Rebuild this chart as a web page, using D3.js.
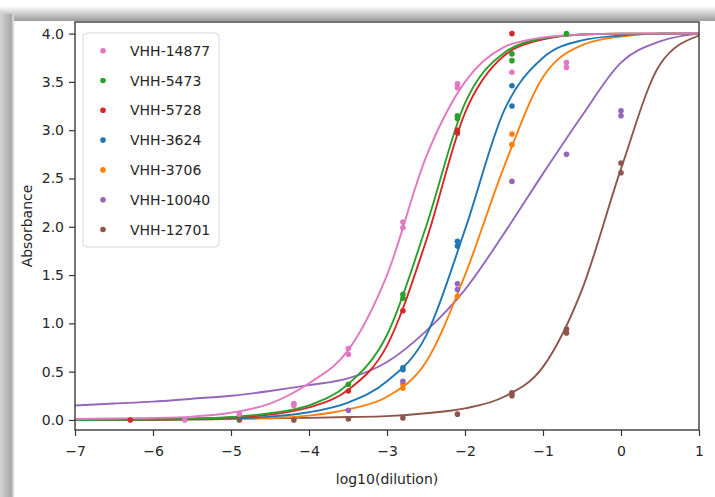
<!DOCTYPE html>
<html>
<head>
<meta charset="utf-8">
<script src="https://cdn.jsdelivr.net/npm/d3@7"></script>
<style>
  body { margin: 0; background: #fff; }
  svg { display: block; font-family: "DejaVu Sans", sans-serif; }
</style>
</head>
<body>
<svg id="chart" width="715" height="497"></svg>
<script>
// series, in legend order
const seriesNames = ["VHH-14877", "VHH-5473", "VHH-5728", "VHH-3624", "VHH-3706", "VHH-10040", "VHH-12701"];
const seriesColors = ["#e377c2", "#2ca02c", "#d62728", "#1f77b4", "#ff7f0e", "#9467bd", "#8c564b"];

// fitted curves at these x positions
const curveX = [-7, -6.5, -6, -5.5, -5, -4.5, -4, -3.5, -3, -2.5, -2, -1.5, -1, -0.5, 0, 0.5, 1];
const curve14877 = [0.01, 0.015, 0.02, 0.035, 0.075, 0.17, 0.38, 0.72, 1.5, 2.72, 3.5, 3.86, 3.96, 3.99, 4.0, 4.0, 4.0];
const curve5473 = [0.0, 0.002, 0.005, 0.012, 0.03, 0.07, 0.15, 0.37, 0.88, 2.0, 3.28, 3.8, 3.95, 3.99, 4.0, 4.0, 4.0];
const curve5728 = [0.0, 0.002, 0.004, 0.01, 0.025, 0.055, 0.13, 0.31, 0.77, 1.85, 3.18, 3.77, 3.94, 3.99, 4.0, 4.0, 4.0];
const curve3624 = [0.0, 0.001, 0.002, 0.006, 0.015, 0.035, 0.08, 0.18, 0.4, 0.87, 1.97, 3.2, 3.75, 3.93, 3.98, 4.0, 4.0];
const curve3706 = [0.0, 0.0, 0.001, 0.004, 0.01, 0.02, 0.045, 0.11, 0.24, 0.6, 1.5, 2.62, 3.55, 3.88, 3.97, 4.0, 4.0];
const curve10040 = [0.15, 0.17, 0.19, 0.22, 0.25, 0.3, 0.36, 0.43, 0.6, 0.92, 1.35, 1.93, 2.55, 3.15, 3.7, 3.92, 4.0];
const curve12701 = [0.01, 0.011, 0.012, 0.013, 0.015, 0.018, 0.022, 0.03, 0.04, 0.07, 0.12, 0.24, 0.55, 1.35, 2.6, 3.68, 3.98];

// measured replicates: [log10(dilution), absorbance]
const points14877 = [[-5.592, 0.0], [-4.893, 0.06], [-4.194, 0.17], [-4.194, 0.15], [-3.495, 0.74], [-3.495, 0.68],
  [-2.796, 2.05], [-2.796, 1.99], [-2.097, 3.48], [-2.097, 3.44], [-1.398, 3.6], [-0.699, 3.7], [-0.699, 3.65]];
const points5473 = [[-3.495, 0.37], [-2.796, 1.3], [-2.796, 1.26], [-2.097, 3.15], [-2.097, 3.12],
  [-1.398, 3.79], [-1.398, 3.72], [-0.699, 4.0]];
const points5728 = [[-6.291, 0.0], [-3.495, 0.3], [-2.796, 1.13], [-2.097, 3.0], [-2.097, 2.97], [-1.398, 4.0]];
const points3624 = [[-2.796, 0.54], [-2.796, 0.52], [-2.097, 1.85], [-2.097, 1.8], [-1.398, 3.46], [-1.398, 3.25]];
const points3706 = [[-2.796, 0.37], [-2.796, 0.33], [-2.097, 1.28], [-1.398, 2.96], [-1.398, 2.85]];
const points10040 = [[-3.495, 0.1], [-2.796, 0.4], [-2.097, 1.41], [-2.097, 1.35], [-1.398, 2.47],
  [-0.699, 2.75], [0, 3.2], [0, 3.15]];
const points12701 = [[-4.893, 0.0], [-4.194, 0.0], [-3.495, 0.01], [-2.796, 0.02], [-2.097, 0.06],
  [-1.398, 0.28], [-1.398, 0.25], [-0.699, 0.94], [-0.699, 0.9], [0, 2.66], [0, 2.56]];

const xTicks = [-7, -6, -5, -4, -3, -2, -1, 0, 1];
const yTicks = [0, 0.5, 1, 1.5, 2, 2.5, 3, 3.5, 4];

const curves = [curve14877, curve5473, curve5728, curve3624, curve3706, curve10040, curve12701];
const points = [points14877, points5473, points5728, points3624, points3706, points10040, points12701];

const svg = d3.select("#chart");
const width = 715;
const height = 497;

// screenshot shadow round the figure
const defs = svg.append("defs");
const topGrad = defs.append("linearGradient").attr("id", "topShade")
    .attr("x1", 0).attr("y1", 0).attr("x2", 0).attr("y2", 1);
topGrad.append("stop").attr("offset", "0%").attr("stop-color", "#ffffff");
topGrad.append("stop").attr("offset", "100%").attr("stop-color", "#9c9c9c");
const leftGrad = defs.append("linearGradient").attr("id", "leftShade")
    .attr("x1", 0).attr("y1", 0).attr("x2", 1).attr("y2", 0);
leftGrad.append("stop").attr("offset", "0%").attr("stop-color", "#d4d4d4");
leftGrad.append("stop").attr("offset", "80%").attr("stop-color", "#a8a8a8");
leftGrad.append("stop").attr("offset", "100%").attr("stop-color", "#e8e8e8");

svg.append("rect").attr("x", 0).attr("y", 0).attr("width", width).attr("height", height).attr("fill", "#fff");
svg.append("rect").attr("x", 0).attr("y", 6).attr("width", width).attr("height", 15).attr("fill", "url(#topShade)");
svg.append("rect").attr("x", 0).attr("y", 14).attr("width", 14).attr("height", height - 14).attr("fill", "url(#leftShade)");

const marginLeft = 75;
const marginRight = 16;
const marginTop = 22;
const plotBottom = 430;

const x = d3.scaleLinear().domain([-7, 1]).range([marginLeft, width - marginRight]);
const y = d3.scaleLinear().domain([-0.104, 4.12]).range([plotBottom, marginTop]);

const plot = svg.append("g");
plot.append("clipPath").attr("id", "clip").append("rect")
    .attr("x", marginLeft).attr("y", marginTop)
    .attr("width", width - marginRight - marginLeft).attr("height", plotBottom - marginTop);

// curves, drawn back to front so pink sits on top
const line = d3.line()
    .x((d) => x(d[0]))
    .y((d) => y(d[1]))
    .curve(d3.curveMonotoneX);

const curveLayer = plot.append("g").attr("clip-path", "url(#clip)");
for (let i = curves.length - 1; i >= 0; i--) {
    curveLayer.append("path")
        .datum(curveX.map((cx, j) => [cx, curves[i][j]]))
        .attr("d", line)
        .attr("fill", "none")
        .attr("stroke", seriesColors[i])
        .attr("stroke-width", 1.9);
}

// replicates on top of the curves
const dotLayer = plot.append("g");
points.forEach((pts, i) => {
    dotLayer.selectAll(null)
        .data(pts)
        .enter()
        .append("circle")
        .attr("cx", (d) => x(d[0]))
        .attr("cy", (d) => y(d[1]))
        .attr("r", 2.8)
        .attr("fill", seriesColors[i]);
});

// axes
const fmtX = (d) => (d < 0 ? "\u2212" + Math.abs(d) : String(d));
const xAxis = svg.append("g")
    .attr("transform", `translate(0,${plotBottom})`)
    .call(d3.axisBottom(x).tickValues(xTicks).tickFormat(fmtX).tickSize(6).tickPadding(10));
const yAxis = svg.append("g")
    .attr("transform", `translate(${marginLeft},0)`)
    .call(d3.axisLeft(y).tickValues(yTicks).tickFormat(d3.format(".1f")).tickSize(6).tickPadding(5));

[xAxis, yAxis].forEach((g) => {
    g.select(".domain").remove();
    g.selectAll(".tick line").attr("stroke", "#333").attr("stroke-width", 1.2);
    g.selectAll(".tick text")
        .style("font-family", "'DejaVu Sans', sans-serif")
        .style("font-size", "14px")
        .attr("fill", "#262626");
});

// frame
svg.append("rect")
    .attr("x", marginLeft).attr("y", marginTop)
    .attr("width", width - marginRight - marginLeft).attr("height", plotBottom - marginTop)
    .attr("fill", "none")
    .attr("stroke", "#3a3a3a")
    .attr("stroke-width", 1.4);

// axis titles
svg.append("text")
    .attr("x", (marginLeft + width - marginRight) / 2)
    .attr("y", 484)
    .attr("text-anchor", "middle")
    .style("font-size", "14px")
    .attr("fill", "#262626")
    .text("log10(dilution)");

svg.append("text")
    .attr("transform", `translate(32,${(marginTop + plotBottom) / 2}) rotate(-90)`)
    .attr("text-anchor", "middle")
    .style("font-size", "14px")
    .attr("fill", "#262626")
    .text("Absorbance");

// legend
const legend = svg.append("g").attr("transform", "translate(83,33)");
legend.append("rect")
    .attr("width", 136).attr("height", 214)
    .attr("rx", 4)
    .attr("fill", "#fff").attr("fill-opacity", 0.8)
    .attr("stroke", "#d6d6d6");

const entry = legend.selectAll("g.entry")
    .data(seriesNames)
    .enter()
    .append("g")
    .attr("class", "entry")
    .attr("transform", (d, i) => `translate(0,${17.7 + i * 29.8})`);

entry.append("circle")
    .attr("cx", 20).attr("cy", 0).attr("r", 2.8)
    .attr("fill", (d, i) => seriesColors[i]);

entry.append("text")
    .attr("x", 47).attr("y", 0).attr("dy", "0.36em")
    .style("font-size", "14px")
    .attr("fill", "#262626")
    .text((d) => d);
</script>
</body>
</html>
